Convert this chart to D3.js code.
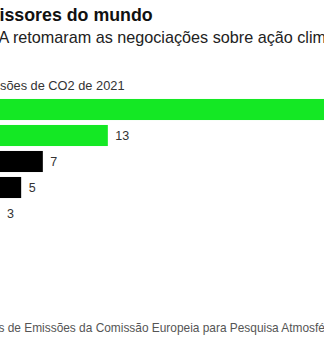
<!DOCTYPE html>
<html lang="pt">
<head>
<meta charset="utf-8">
<script src="https://cdn.jsdelivr.net/npm/d3@7"></script>
<style>
  html, body { margin: 0; padding: 0; background: #fff; overflow: hidden; }
  svg { display: block; }
  text { font-family: "Liberation Sans", Arial, Helvetica, sans-serif; }
</style>
</head>
<body>
<svg id="chart" width="324" height="349"></svg>
<script>
// Share of global CO2 emissions in 2021 (%)
const countries = ["China", "EUA", "Índia", "Rússia", "Japão"];
const shares = [33, 13, 7, 5, 3];
const highlighted = [true, true, false, false, false];

const titleText = "Maiores emissores do mundo";
const subtitleText = "China e EUA retomaram as negociações sobre ação climática";
const axisText = "Participação nas emissões de CO2 de 2021";
const sourceText = "Fonte: Banco de Dados de Emissões da Comissão Europeia para Pesquisa Atmosférica Global (EDGAR)";

const svg = d3.select("#chart");

const x = d3.scaleLinear().domain([0, 33]).range([-33, 324.5]);
const y = d3.scaleBand()
  .domain(countries)
  .range([96.5, 226.5])
  .paddingInner(0.19)
  .paddingOuter(0.095);

const rows = countries.map((c, i) => ({ c, v: shares[i], hi: highlighted[i] }));

// Place a line of text so that the part after `prefix` begins at `startX`
function anchoredText(str, prefix, startX, yPos, attrs) {
  const t = svg.append("text").attr("y", yPos).text(str);
  Object.entries(attrs).forEach(([k, v]) => t.attr(k, v));
  const w = t.node().getSubStringLength(0, prefix.length);
  t.attr("x", startX - w);
  return t;
}

anchoredText(titleText, "Maiores em", -0.5, 20.5,
  { "font-size": 17.8, "font-weight": "bold", fill: "#111" });
anchoredText(subtitleText, "China e EU", -1.5, 42.5,
  { "font-size": 16.2, fill: "#222" });
anchoredText(axisText, "Participação nas emis", 0, 90,
  { "font-size": 12.8, fill: "#333" });
anchoredText(sourceText, "Fonte: Banco de Dado", -1.5, 331.5,
  { "font-size": 11.9, fill: "#555" });

const g = svg.append("g");

g.selectAll("rect.bar")
  .data(rows)
  .join("rect")
  .attr("class", "bar")
  .attr("x", x(0))
  .attr("y", d => y(d.c))
  .attr("width", d => x(d.v) - x(0))
  .attr("height", y.bandwidth())
  .attr("fill", d => d.hi ? "#14e824" : "#000");

g.selectAll("text.val")
  .data(rows)
  .join("text")
  .attr("class", "val")
  .attr("x", d => x(d.v) + 7.5)
  .attr("y", d => y(d.c) + y.bandwidth() / 2 + 4.5)
  .attr("font-size", 12.5)
  .attr("fill", "#333")
  .text(d => d.v);
</script>
</body>
</html>
